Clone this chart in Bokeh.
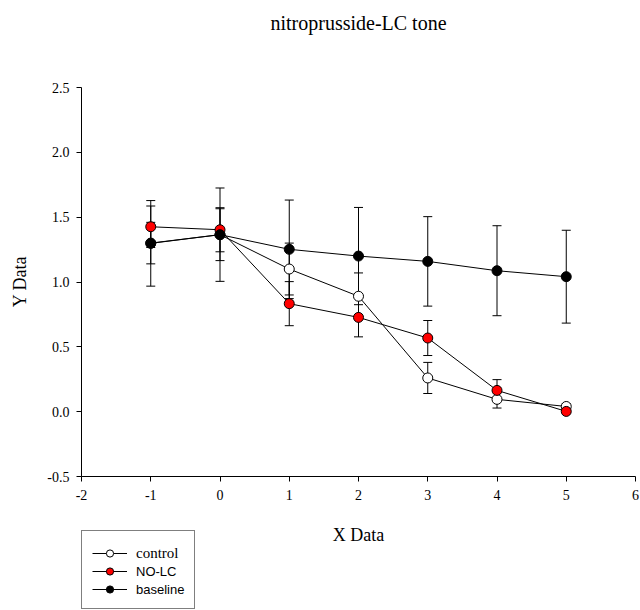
import math
from bokeh.plotting import figure
from bokeh.models import (ColumnDataSource, Whisker, TeeHead, Legend, LegendItem,
                          FixedTicker, Range1d, Label)
from bokeh.embed import file_html
from bokeh.resources import INLINE

# Dose steps and group means with their error bar half-widths
x_vals = [-1, 0, 1, 2, 3, 4, 5]

control = [1.30, 1.365, 1.10, 0.89, 0.26, 0.095, 0.04]
control_err = [0.16, 0.20, 0.20, 0.18, 0.12, 0.067, 0.02]

no_lc = [1.426, 1.403, 0.833, 0.727, 0.568, 0.164, 0.002]
no_lc_err = [0.16, 0.17, 0.17, 0.15, 0.135, 0.083, 0.01]

baseline = [1.298, 1.365, 1.252, 1.20, 1.159, 1.087, 1.041]
baseline_err = [0.33, 0.36, 0.38, 0.375, 0.345, 0.347, 0.358]

x_ticks = [-2, -1, 0, 1, 2, 3, 4, 5, 6]
y_ticks = [-0.5, 0.0, 0.5, 1.0, 1.5, 2.0, 2.5]

SERIF = "Liberation Serif"
SANS = "Liberation Sans"

W, H = 640, 610
# axis box in canvas pixels (left, right, top, bottom)
AX_L, AX_R, AX_T, AX_B = 81, 635, 87, 476
X0, X1 = -2.0, 6.0
Y0, Y1 = -0.5, 2.5
sx = (AX_R - AX_L) / (X1 - X0)
sy = (AX_B - AX_T) / (Y1 - Y0)


def data_x(px):
    return X0 + (px - AX_L) / sx


def data_y(py):
    return Y0 + (AX_B - py) / sy


# The frame fills the whole canvas; both axes are pinned at the data
# corner so that ticks, labels and the legend below are never clipped.
p = figure(width=W, height=H, output_backend="svg", toolbar_location=None,
           x_range=Range1d(data_x(0), data_x(W)),
           y_range=Range1d(data_y(H), data_y(0)),
           min_border_left=0, min_border_right=0,
           min_border_top=0, min_border_bottom=0,
           background_fill_color="white", border_fill_color="white")
p.outline_line_color = None
p.grid.visible = False

for ax in (p.xaxis[0], p.yaxis[0]):
    ax.axis_line_color = "black"
    ax.major_tick_line_color = "black"
    ax.minor_tick_line_color = None
    ax.major_tick_in = 0
    ax.major_tick_out = 5
    ax.major_label_text_font = SERIF
    ax.major_label_text_font_size = "14px"
    ax.major_label_text_color = "black"

p.xaxis.fixed_location = Y0
p.yaxis.fixed_location = X0
p.xaxis.bounds = (X0, X1)
p.yaxis.bounds = (Y0, Y1)
p.xaxis.ticker = FixedTicker(ticks=x_ticks)
p.yaxis.ticker = FixedTicker(ticks=y_ticks)
p.yaxis.major_label_overrides = {v: f"{v:.1f}" for v in y_ticks}
p.xaxis.major_label_overrides = {v: f"{v:d}" for v in x_ticks}
p.xaxis.major_label_standoff = 8
p.yaxis.major_label_standoff = 7

# Title and axis titles
p.add_layout(Label(x=data_x(358), y=data_y(22), text="nitroprusside-LC tone",
                   text_font=SERIF, text_font_size="20px", text_color="black",
                   text_align="center", text_baseline="middle"))
p.add_layout(Label(x=data_x(358), y=data_y(534), text="X Data",
                   text_font=SERIF, text_font_size="18px", text_color="black",
                   text_align="center", text_baseline="middle"))
p.add_layout(Label(x=data_x(19.5), y=data_y(281), text="Y Data", angle=math.pi / 2,
                   text_font=SERIF, text_font_size="18px", text_color="black",
                   text_align="center", text_baseline="middle"))

series = [
    ("control", control, control_err, "white"),
    ("NO-LC", no_lc, no_lc_err, "#ff0000"),
    ("baseline", baseline, baseline_err, "black"),
]

items = {}
for name, ys, errs, fill in series:
    src = ColumnDataSource(dict(
        x=x_vals, y=ys,
        upper=[v + e for v, e in zip(ys, errs)],
        lower=[v - e for v, e in zip(ys, errs)],
    ))
    ln = p.line("x", "y", source=src, line_color="black", line_width=1)
    mk = p.scatter("x", "y", source=src, size=10, marker="circle",
                   fill_color=fill, line_color="black", line_width=1)
    items[name] = [ln, mk]
    p.add_layout(Whisker(base="x", upper="upper", lower="lower", source=src,
                         line_color="black", line_width=1,
                         upper_head=TeeHead(size=9, line_color="black", line_width=1),
                         lower_head=TeeHead(size=9, line_color="black", line_width=1)))

# Legend frame: an item-less box that the two text legends sit on
frame_box = Legend(items=[LegendItem(label=" ", renderers=[])],
                   location=(81, 1), orientation="vertical",
                   padding=0, margin=0, spacing=0,
                   glyph_width=110, glyph_height=77, label_height=77,
                   label_width=2, label_standoff=0, label_text_font_size="6px",
                   border_line_color="black", border_line_width=1,
                   background_fill_color="white", background_fill_alpha=1)
p.add_layout(frame_box, "center")

common = dict(orientation="vertical", padding=0, margin=0, spacing=0,
              glyph_width=35, glyph_height=18, label_height=18,
              label_standoff=9, label_text_color="black",
              border_line_color=None, background_fill_alpha=0)

leg_a = Legend(items=[LegendItem(label="control", renderers=items["control"])],
               location=(92, 48), label_text_font=SERIF,
               label_text_font_size="15px", **common)
leg_b = Legend(items=[LegendItem(label="NO-LC", renderers=items["NO-LC"]),
                      LegendItem(label="baseline", renderers=items["baseline"])],
               location=(92, 12), label_text_font=SANS,
               label_text_font_size="13px", **common)
p.add_layout(leg_a, "center")
p.add_layout(leg_b, "center")

open("out.html", "w").write(file_html(p, INLINE))
